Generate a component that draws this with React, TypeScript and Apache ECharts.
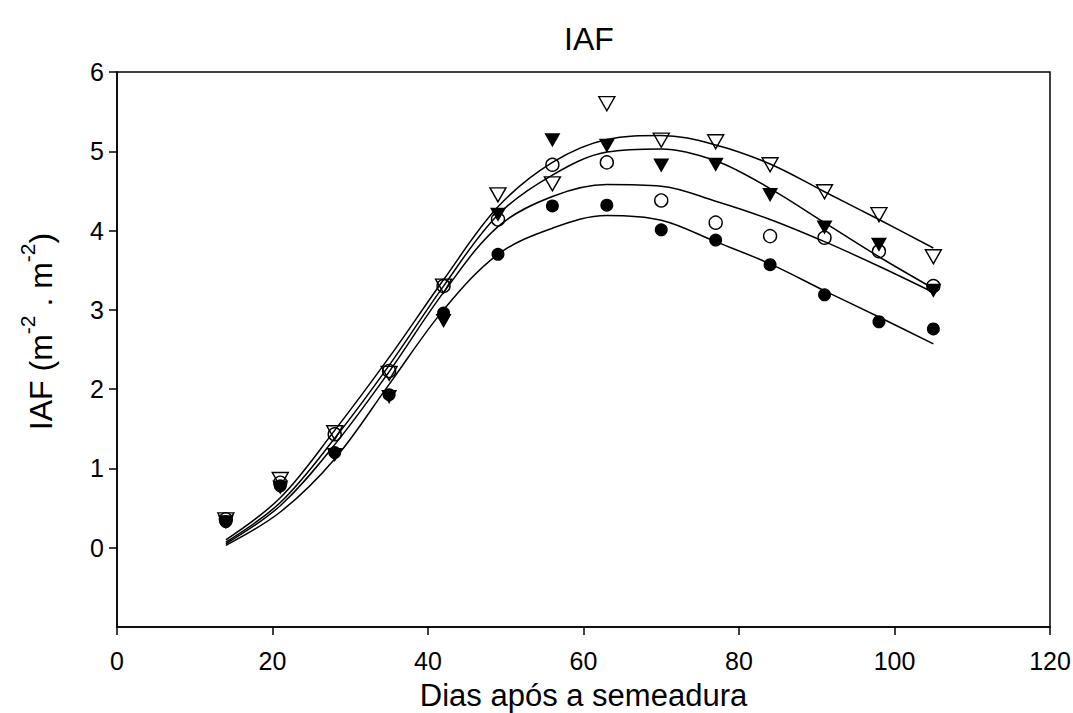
import React, { useEffect, useRef } from "react";
import * as echarts from "echarts";

// Observation days
const DAYS = [14, 21, 28, 35, 42, 49, 56, 63, 70, 77, 84, 91, 98, 105];

// Observed values (markers)
const OBS_FILLED_CIRCLE = [0.33, 0.78, 1.2, 1.93, 2.96, 3.7, 4.31, 4.32, 4.01, 3.88, 3.57, 3.19, 2.85, 2.76];
const OBS_OPEN_CIRCLE = [0.36, 0.82, 1.43, 2.23, 3.3, 4.14, 4.83, 4.86, 4.38, 4.1, 3.93, 3.91, 3.74, 3.3];
const OBS_FILLED_TRI = [0.32, 0.76, 1.17, 1.9, 2.86, 4.2, 5.14, 5.07, 4.82, 4.83, 4.45, 4.04, 3.82, 3.24];
const OBS_OPEN_TRI = [0.35, 0.86, 1.45, 2.2, 3.3, 4.45, 4.59, 5.6, 5.14, 5.12, 4.83, 4.49, 4.2, 3.67];

// Fitted curves at the same days
const FIT_FILLED_CIRCLE = [0.03, 0.45, 1.12, 2.06, 3.0, 3.7, 4.03, 4.19, 4.13, 3.86, 3.58, 3.24, 2.91, 2.57];
const FIT_OPEN_CIRCLE = [0.05, 0.53, 1.3, 2.22, 3.22, 4.05, 4.43, 4.58, 4.56, 4.37, 4.14, 3.86, 3.55, 3.22];
const FIT_FILLED_TRI = [0.07, 0.57, 1.38, 2.3, 3.3, 4.2, 4.7, 4.99, 5.03, 4.88, 4.53, 4.1, 3.67, 3.27];
const FIT_OPEN_TRI = [0.1, 0.63, 1.48, 2.4, 3.38, 4.3, 4.86, 5.15, 5.2, 5.08, 4.84, 4.49, 4.14, 3.78];

const X_TICKS = [0, 20, 40, 60, 80, 100, 120];
const Y_TICKS = [0, 1, 2, 3, 4, 5, 6];

const FONT = "'Liberation Sans', Arial, Helvetica, sans-serif";

const pairs = (ys: number[]) => DAYS.map((d, i) => [d, ys[i]]);

export default function App() {
  const ref = useRef<HTMLDivElement>(null);

  useEffect(() => {
    document.body.style.margin = "0";
    if (!ref.current) return;
    const chart = echarts.init(ref.current, null, { renderer: "svg" });

    const lineSeries = (data: number[]) => ({
      type: "line",
      data: pairs(data),
      showSymbol: false,
      smooth: 0.35,
      lineStyle: { color: "#000", width: 1.5 },
      z: 2,
      silent: true,
    });

    const scatter = (data: number[], symbol: string, filled: boolean, size: any, rotate = 0) => ({
      type: "scatter",
      data: pairs(data),
      symbol,
      symbolSize: size,
      symbolRotate: rotate,
      itemStyle: {
        color: filled ? "#000" : "rgba(0,0,0,0)",
        borderColor: "#000",
        borderWidth: filled ? 0 : 1.4,
        opacity: 1,
      },
      z: 3,
      silent: true,
    });

    chart.setOption({
      animation: false,
      backgroundColor: "#fff",
      title: {
        text: "IAF",
        left: 584,
        top: 18,
        textAlign: "center",
        textStyle: { fontFamily: FONT, fontSize: 32, fontWeight: "normal", color: "#000" },
      },
      grid: {
        left: 117,
        right: 23,
        top: 72,
        bottom: 86,
        outerBoundsMode: "none",
        containLabel: false,
        show: true,
        borderColor: "#000",
        borderWidth: 1.5,
        backgroundColor: "transparent",
      },
      xAxis: {
        type: "value",
        min: 0,
        max: 120,
        interval: 20,
        name: "Dias após a semeadura",
        nameLocation: "middle",
        nameGap: 53,
        nameTextStyle: { fontFamily: FONT, fontSize: 31, color: "#000" },
        axisLine: { show: true, onZero: false, lineStyle: { color: "#000", width: 1.5 } },
        axisTick: { show: true, inside: false, length: 8, lineStyle: { color: "#000", width: 1.5 }, customValues: X_TICKS },
        axisLabel: { fontFamily: FONT, fontSize: 25, color: "#000", margin: 21, customValues: X_TICKS },
        splitLine: { show: false },
      },
      yAxis: {
        type: "value",
        min: -1,
        max: 6,
        interval: 1,
        name: "{n|IAF (m}{s|-2}{n| . m}{s|-2}{n|)}",
        nameLocation: "middle",
        nameGap: 60,
        nameTextStyle: {
          fontFamily: FONT,
          fontSize: 32,
          color: "#000",
          padding: [0, 0, 0, 36],
          rich: {
            n: { fontFamily: FONT, fontSize: 32, color: "#000", lineHeight: 40, verticalAlign: "bottom" },
            s: { fontFamily: FONT, fontSize: 21, color: "#000", lineHeight: 24, verticalAlign: "top" },
          },
        },
        axisLine: { show: true, onZero: false, lineStyle: { color: "#000", width: 1.5 } },
        axisTick: { show: true, inside: false, length: 8, lineStyle: { color: "#000", width: 1.5 }, customValues: Y_TICKS },
        axisLabel: { fontFamily: FONT, fontSize: 25, color: "#000", margin: 13, customValues: Y_TICKS },
        splitLine: { show: false },
      },
      series: [
        lineSeries(FIT_FILLED_CIRCLE),
        lineSeries(FIT_OPEN_CIRCLE),
        lineSeries(FIT_FILLED_TRI),
        lineSeries(FIT_OPEN_TRI),
        scatter(OBS_FILLED_CIRCLE, "circle", true, 13),
        scatter(OBS_OPEN_CIRCLE, "circle", false, 13),
        scatter(OBS_FILLED_TRI, "triangle", true, [16, 14], 180),
        scatter(OBS_OPEN_TRI, "triangle", false, [16, 14], 180),
      ],
    });

    return () => chart.dispose();
  }, []);

  return <div ref={ref} style={{ width: 1073, height: 713 }} />;
}
